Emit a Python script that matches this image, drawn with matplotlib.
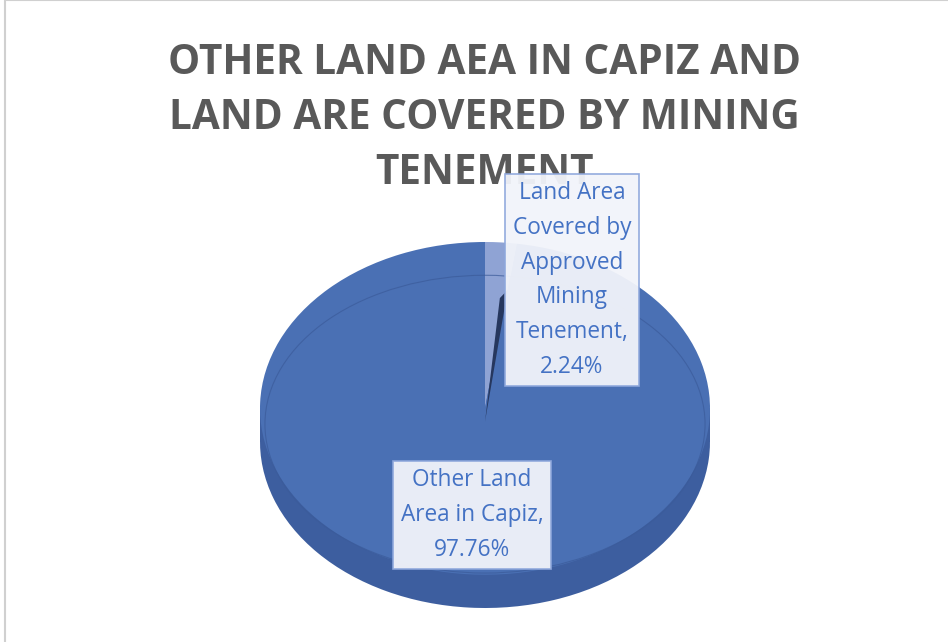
import numpy as np
import matplotlib.pyplot as plt
from matplotlib.patches import Rectangle, Ellipse, Polygon

# data
labels = ["Land Area\nCovered by\nApproved\nMining\nTenement,", "Other Land\nArea in Capiz,"]
values = [2.24, 97.76]
title = "OTHER LAND AEA IN CAPIZ AND\nLAND ARE COVERED BY MINING\nTENEMENT"

W, H = 948, 642
fig = plt.figure(figsize=(W / 100, H / 100), dpi=100)
fig.patch.set_facecolor("white")

def fx(px):
    return px / W

def fy(py):
    return 1 - py / H

# thin frame of the chart area
fig.add_artist(Rectangle((fx(5), fy(700)), fx(1000), 700 / H, transform=fig.transFigure,
                         fill=False, edgecolor="#d0d0d0", lw=1.5))

top_col = "#4a70b4"
side_col = "#3d5e9f"
slice_col = "#8fa3d4"
depth = 0.2

ax = fig.add_axes([fx(260), fy(608), fx(450), 366 / H])
# bottom of the disc (side wall)
ax.pie(values, colors=[side_col, side_col], startangle=90, counterclock=False,
       center=(0, -depth), wedgeprops=dict(linewidth=0))
ax.add_patch(Rectangle((-1, -depth), 2, depth, color=side_col, lw=0))
# top face
wedges, _ = ax.pie(values, colors=[slice_col, top_col], startangle=90, counterclock=False,
                   wedgeprops=dict(linewidth=0))
# bevel rim line
ax.add_patch(Ellipse((0, -0.095), 1.956, 1.79, fill=False, edgecolor="#3b5b9a", lw=0.8, alpha=0.7))

# dark sliver along the cut of the small slice
th = np.deg2rad(90 - values[0] * 3.6)
r = 0.72
ax.add_patch(Polygon([(0, -0.08), (r * np.cos(th), r * np.sin(th)),
                      (r * np.cos(th) - 0.035, r * np.sin(th) - 0.05)],
                     closed=True, color="#26375e", lw=0))

ax.set_aspect("auto")
ax.set_xlim(-1, 1)
ax.set_ylim(-1 - depth, 1)
ax.axis("off")

fig.text(fx(484), fy(43), title, ha="center", va="top", fontsize=29.2, fontweight="bold",
         color="#595959", family="Open Sans", linespacing=1.45, zorder=1)

box = dict(boxstyle="square,pad=0.33", facecolor="#f2f4fa", edgecolor="#8ea7dc", lw=1.2, alpha=0.95)
fig.text(fx(572), fy(280), labels[0] + "\n" + f"{values[0]:.2f}%", ha="center", va="center",
         fontsize=16.3, color="#4472c4", family="Open Sans", linespacing=1.6, bbox=box, zorder=5)
fig.text(fx(472), fy(515), labels[1] + "\n" + f"{values[1]:.2f}%", ha="center", va="center",
         fontsize=16.3, color="#4472c4", family="Open Sans", linespacing=1.6, bbox=box, zorder=5)

fig.savefig("out.png", dpi=100)
